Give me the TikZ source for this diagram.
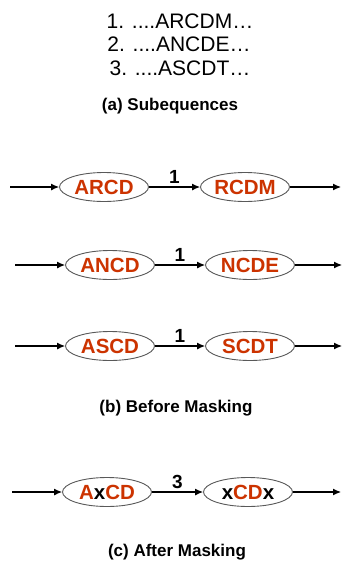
\documentclass[tikz,border=0pt]{standalone}
\usepackage{fontspec}
\setmainfont{Liberation Sans}
\usetikzlibrary{shapes.geometric, arrows.meta, positioning}
\definecolor{seqred}{HTML}{CC3300}

\begin{document}
\begin{tikzpicture}[x=1pt, y=-1pt, every node/.style={inner sep=1pt},
    kmer/.style={ellipse, draw=black!65, line width=0.9pt, fill=white,
        minimum width=89pt, minimum height=29pt, inner sep=0pt,
        text=seqred, font=\fontsize{20.5}{24}\selectfont\bfseries},
    link/.style={-{Latex[length=8pt,width=7pt]}, line width=1.1pt},
    seqline/.style={font=\fontsize{21}{24}\selectfont},
    subcap/.style={font=\fontsize{17}{20}\selectfont\bfseries}]

    \useasboundingbox (0,0) rectangle (342,563);

    % 1. the three subsequences
    \node[seqline] (seq1) at (180,21) {1. ....ARCDM…};
    \node[seqline] (seq2) at (179,44) {2. ....ANCDE…};
    \node[seqline] (seq3) at (180,68) {3. ....ASCDT…};
    \node[subcap] (capa) at (170,106) {(a) Subequences};

    % 2. rows of k-mer nodes (row / y / left x / right x / start / end / labels / weight)
    \foreach \r/\yy/\xa/\xb/\xs/\xe/\la/\lb/\w in {
        1/187/104/245/10/341/ARCD/RCDM/1,
        2/265/110/250/15/342/ANCD/NCDE/1,
        3/346/110/250/15/342/ASCD/SCDT/1,
        4/492/107/248/12/341/{A\textcolor{black}{x}CD}/{\textcolor{black}{x}CD\textcolor{black}{x}}/3} {
        \node[kmer] (left\r) at (\xa,\yy) {\la};
        \node[kmer] (right\r) at (\xb,\yy) {\lb};
        \coordinate (in\r) at (\xs,\yy);
        \coordinate (out\r) at (\xe,\yy);
        \draw[link] (in\r) -- (left\r);
        \draw[link] (left\r) -- node[above=1.5pt, font=\fontsize{19}{22}\selectfont\bfseries] (w\r) {\w} (right\r);
        \draw[link] (right\r) -- (out\r);
    }

    % 3. sub captions
    \node[subcap] (capb) at (176,408) {(b) Before Masking};
    \node[subcap] (capc) at (177,552) {(c) After Masking};

\end{tikzpicture}
\end{document}
